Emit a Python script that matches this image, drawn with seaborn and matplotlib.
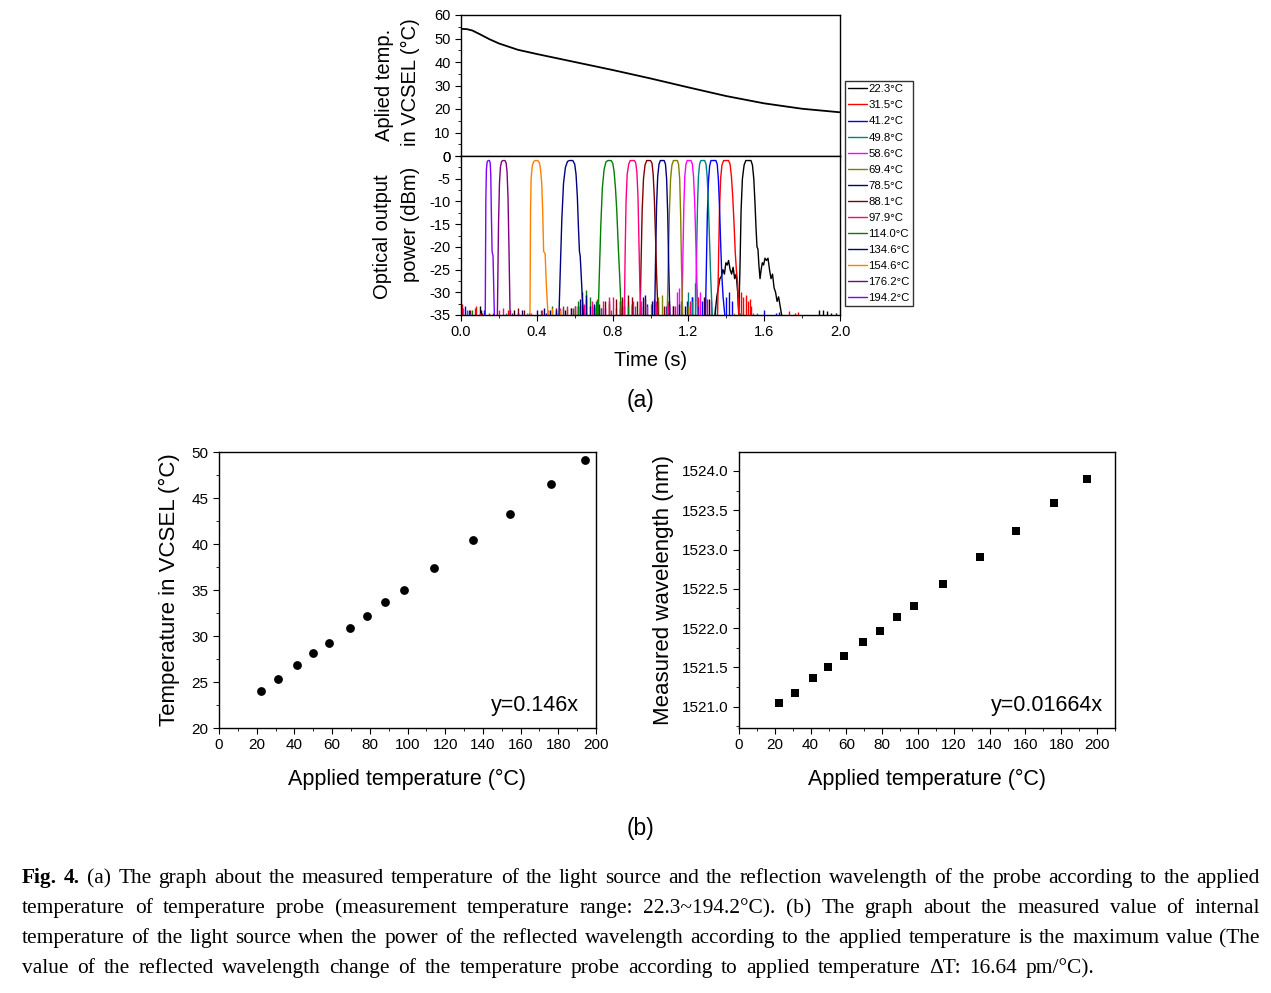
import pandas as pd
import seaborn as sns
import matplotlib.pyplot as plt
from matplotlib.ticker import MultipleLocator, FormatStrFormatter

# applied temperature of the probe and results (Fig. 4b)
APPLIED_T = [22.3, 31.5, 41.2, 49.8, 58.6, 69.4, 78.5, 88.1, 97.9, 114.0, 134.6, 154.6, 176.2, 194.2]
VCSEL_TEMP = [24.05, 25.28, 26.87, 28.13, 29.25, 30.84, 32.14, 33.66, 34.96, 37.38, 40.42, 43.31, 46.49, 49.17]
WAVELENGTH = [1521.05, 1521.18, 1521.36, 1521.50, 1521.64, 1521.82, 1521.96, 1522.14, 1522.28, 1522.56,
              1522.91, 1523.23, 1523.59, 1523.90]

# applied temperature in VCSEL vs time (Fig. 4a, top)
TIME_S = [0.0, 0.03, 0.06, 0.1, 0.15, 0.2, 0.3, 0.4, 0.5, 0.6, 0.8, 1.0, 1.2, 1.4, 1.6, 1.8, 2.0]
VCSEL_RAMP = [54.1, 54.0, 53.4, 51.8, 49.7, 47.9, 45.2, 43.4, 41.7, 40.0, 36.6, 33.0, 29.2, 25.5, 22.4, 20.1, 18.6]

# optical output power traces (Fig. 4a, bottom)
TRACE_LABELS = ['22.3°C', '31.5°C', '41.2°C', '49.8°C', '58.6°C', '69.4°C', '78.5°C',
                '88.1°C', '97.9°C', '114.0°C', '134.6°C', '154.6°C', '176.2°C', '194.2°C']
TRACE_COLORS = ['#000000', '#FF0000', '#0000FF', '#008080', '#FF00FF', '#808000', '#000080',
                '#800000', '#FF0080', '#008000', '#000080', '#FF8000', '#800080', '#8000FF']
TRACE_T = [
    [1.340, 1.350, 1.358, 1.366, 1.374, 1.382, 1.390, 1.398, 1.405, 1.412, 1.420, 1.428, 1.436, 1.444, 1.452,
     1.460, 1.466, 1.472, 1.478, 1.485, 1.494, 1.503, 1.530, 1.538, 1.545, 1.551, 1.557, 1.562, 1.567, 1.572,
     1.578, 1.584, 1.590, 1.597, 1.604, 1.612, 1.620, 1.628, 1.636, 1.644, 1.652, 1.660, 1.668, 1.676, 1.684, 1.692],
    [1.354, 1.359, 1.364, 1.370, 1.377, 1.386, 1.412, 1.420, 1.427, 1.434, 1.441, 1.447, 1.453, 1.460, 1.466],
    [1.290, 1.295, 1.300, 1.306, 1.312, 1.319, 1.345, 1.352, 1.358, 1.364, 1.370, 1.376, 1.383, 1.392],
    [1.238, 1.243, 1.248, 1.253, 1.259, 1.266, 1.286, 1.293, 1.299, 1.305, 1.311, 1.318, 1.326],
    [1.166, 1.171, 1.176, 1.181, 1.187, 1.194, 1.214, 1.221, 1.227, 1.233, 1.238, 1.243, 1.250],
    [1.088, 1.094, 1.100, 1.106, 1.113, 1.121, 1.142, 1.148, 1.154, 1.159, 1.164, 1.170],
    [1.022, 1.027, 1.032, 1.038, 1.045, 1.052, 1.072, 1.079, 1.085, 1.091, 1.096, 1.102],
    [0.945, 0.950, 0.956, 0.963, 0.971, 0.980, 1.000, 1.008, 1.014, 1.020, 1.026, 1.032, 1.040],
    [0.862, 0.866, 0.871, 0.877, 0.885, 0.893, 0.915, 0.922, 0.928, 0.934, 0.939, 0.944, 0.950],
    [0.724, 0.730, 0.738, 0.746, 0.755, 0.765, 0.775, 0.792, 0.801, 0.808, 0.815, 0.822, 0.830, 0.838, 0.846],
    [0.517, 0.524, 0.532, 0.541, 0.551, 0.562, 0.572, 0.590, 0.600, 0.607, 0.614, 0.620, 0.625, 0.629, 0.634,
     0.640, 0.646],
    [0.364, 0.367, 0.370, 0.376, 0.384, 0.392, 0.405, 0.414, 0.420, 0.426, 0.431, 0.436, 0.444, 0.450, 0.459],
    [0.192, 0.198, 0.203, 0.208, 0.214, 0.222, 0.232, 0.238, 0.243, 0.248, 0.253, 0.259],
    [0.128, 0.131, 0.134, 0.138, 0.143, 0.150, 0.154, 0.157, 0.160, 0.164, 0.169, 0.176],
]
TRACE_P = [
    [-35, -31, -29, -27, -26.5, -25, -26, -23.5, -24, -23, -25, -26, -24.5, -27, -26,
     -30, -35, -25, -12, -5, -2, -1, -1, -2, -5, -10, -16, -20, -20.5, -24,
     -27, -25, -23.5, -24, -22.5, -23, -22.5, -25, -27, -26, -29, -30, -32, -31, -33, -35],
    [-35, -23, -12, -5, -2, -1, -1, -1.8, -4.5, -9, -15, -21, -25, -28, -35],
    [-35, -24, -13, -5.5, -2.2, -1, -1, -1.8, -5, -11, -19, -26, -31, -35],
    [-35, -22, -11, -4.5, -1.8, -1, -1, -1.8, -4.5, -10, -18, -27, -35],
    [-35, -22, -11, -4.5, -1.8, -1, -1, -1.8, -4.5, -10, -17, -25, -35],
    [-35, -23, -12, -5, -2, -1, -1, -1.8, -5, -13, -25, -35],
    [-35, -22, -11, -4.5, -1.8, -1, -1, -1.8, -5, -13, -24, -35],
    [-35, -24, -12, -5, -2, -1, -1, -1.6, -4, -9, -17, -26, -35],
    [-35, -22, -10, -4, -1.8, -1, -1, -1.5, -3.5, -9, -19, -29, -35],
    [-35, -26, -15, -7, -3, -1.3, -1, -1, -1.6, -3.5, -7, -12, -20, -27, -35],
    [-35, -25, -14, -6, -2.5, -1.2, -1, -1, -1.8, -4, -9, -16, -21, -22, -26, -31, -35],
    [-35, -12, -5, -2.2, -1.2, -1, -1, -1.5, -3, -6, -12, -21, -21.5, -28, -35],
    [-35, -15, -6, -2.5, -1.2, -1, -1, -1.5, -3.5, -9, -20, -35],
    [-35, -10, -3, -1.3, -1, -1, -1.5, -4, -12, -21, -22, -35],
]
# noise spikes above the -35 dBm floor
NOISE_T = [
    [0.10, 0.105, 0.28, 0.36, 0.55, 0.62, 0.70, 0.84, 0.95, 1.02, 1.10, 1.18, 1.22, 1.28, 1.31,
     1.89, 1.91, 1.93, 1.95, 1.98],
    [0.005, 0.075, 0.08, 0.15, 0.25, 0.46, 0.58, 0.82, 0.90, 1.04, 1.12, 1.20, 1.25, 1.30,
     1.476, 1.49, 1.505, 1.515, 1.525, 1.53, 1.73, 1.76, 1.78],
    [0.02, 0.04, 0.12, 0.30, 0.45, 0.62, 0.74, 0.86, 0.98, 1.08, 1.19, 1.22, 1.27, 1.40, 1.415, 1.43,
     1.60, 1.66, 1.68],
    [0.03, 0.24, 0.52, 0.64, 0.70, 0.79, 0.92, 1.03, 1.16, 1.20, 1.22, 1.236, 1.34, 1.47, 1.56],
    [0.01, 0.37, 0.54, 0.66, 0.76, 0.88, 0.95, 1.02, 1.10, 1.14, 1.15, 1.26, 1.29, 1.32, 1.54],
    [0.35, 0.56, 0.60, 0.78, 0.86, 0.90, 1.00, 1.04, 1.06, 1.09, 1.20, 1.48],
    [0.32, 0.50, 0.58, 0.72, 0.84, 0.90, 0.96, 0.97, 1.01, 1.12, 1.15, 1.25],
    [0.045, 0.11, 0.30, 0.33, 0.50, 0.60, 0.70, 0.73, 0.76, 0.78, 0.82, 0.85, 0.88, 0.90, 0.93, 0.97, 1.07],
    [0.10, 0.20, 0.22, 0.26, 0.43, 0.52, 0.56, 0.60, 0.65, 0.69, 0.72, 0.75, 0.78, 0.80, 0.84, 0.86,
     0.91, 0.98, 1.03, 1.09, 1.13, 1.21],
    [0.06, 0.17, 0.42, 0.48, 0.54, 0.59, 0.62, 0.657, 0.66, 0.68, 0.71, 0.74, 0.88],
    [0.40, 0.44, 0.47, 0.50, 0.63, 0.64, 0.66, 0.68, 0.70],
    [0.46, 0.48, 0.52, 1.44],
    [0.27, 0.30],
    [0.05, 0.19],
]
NOISE_P = [
    [-33, -34, -34, -34.5, -34, -33, -33.5, -33.5, -33, -32, -32.5, -33, -31, -31, -31.5,
     -34, -34, -34.2, -34.5, -34.6],
    [-32.5, -33.5, -33, -34.5, -34, -34, -33.5, -33.5, -32.5, -32, -33, -33, -31, -31.5,
     -30, -31, -30.5, -32, -31.5, -33, -34.2, -34.5, -34.3],
    [-33, -34, -34, -34.5, -34.5, -33, -33.5, -33, -32.5, -33, -32, -31, -32, -31, -30, -32,
     -34, -34.5, -34.3],
    [-34, -34.5, -34, -32.5, -33, -34, -33, -32.5, -32, -30, -32, -28, -33, -34.5, -34.5],
    [-33.5, -34.5, -33.5, -33, -33.5, -32, -32, -31.5, -32, -30, -29, -30, -31, -32, -34.5],
    [-34.5, -33.5, -34, -32.5, -33, -33, -32.5, -31, -30.5, -32, -33, -34.5],
    [-34, -34.5, -33.5, -33, -32, -32.5, -31, -30.5, -32, -33, -32.5, -33],
    [-34, -34.5, -33.5, -34, -33.5, -33, -33, -32.5, -32, -32, -31.5, -31, -30.5, -31, -32, -31.5, -33],
    [-34.5, -34, -33.5, -34, -34, -33.5, -33, -33, -32.5, -32, -31.5, -32, -31, -31, -32, -31.5,
     -32, -33, -32, -32.5, -33, -32],
    [-34, -34.5, -34, -33, -33, -33.5, -32, -29.5, -31.5, -31, -32, -33.5, -33],
    [-34, -33.5, -34, -34, -31.5, -30, -30.5, -33, -32.5],
    [-34, -33.5, -34, -34.5],
    [-34.5, -34.5],
    [-34.5, -34.8],
]

sns.set_style('ticks')
plt.rcParams['font.family'] = ['Liberation Sans', 'DejaVu Sans']
plt.rcParams.update({'text.color': 'black', 'axes.labelcolor': 'black', 'xtick.color': 'black',
                     'ytick.color': 'black', 'axes.edgecolor': 'black', 'axes.linewidth': 1.0,
                     'axes.unicode_minus': False,
                     'xtick.direction': 'out', 'ytick.direction': 'out',
                     'xtick.major.size': 4, 'ytick.major.size': 4, 'xtick.minor.size': 2.2,
                     'ytick.minor.size': 2.2})

W, H = 1271, 993
fig = plt.figure(figsize=(W / 100, H / 100), dpi=100)


def rect(x0, y0, x1, y1):
    return [x0 / W, 1 - y1 / H, (x1 - x0) / W, (y1 - y0) / H]


# ---- (a) top: applied temp in VCSEL
ax_top = fig.add_axes(rect(461, 15, 840, 156))
sns.lineplot(x=TIME_S, y=VCSEL_RAMP, color='black', linewidth=1.3, ax=ax_top)
ax_top.set_xlim(0, 2)
ax_top.set_ylim(0, 60)
ax_top.yaxis.set_major_locator(MultipleLocator(10))
ax_top.yaxis.set_minor_locator(MultipleLocator(5))
ax_top.xaxis.set_major_locator(MultipleLocator(0.4))
ax_top.xaxis.set_minor_locator(MultipleLocator(0.2))
ax_top.tick_params(axis='x', which='both', labelbottom=False)
ax_top.tick_params(labelsize=10.5)

# ---- (a) bottom: optical output power
ax_bot = fig.add_axes(rect(461, 156, 840, 315))
for ts, ps, c in zip(NOISE_T, NOISE_P, TRACE_COLORS):
    ax_bot.vlines(ts, -35, ps, colors=c, linewidth=1.0)
rows = []
for lab, ts, ps in zip(TRACE_LABELS, TRACE_T, TRACE_P):
    for t, p in zip(ts, ps):
        rows.append((lab, t, p))
traces = pd.DataFrame(rows, columns=['trace', 't', 'p'])
sns.lineplot(data=traces, x='t', y='p', hue='trace', hue_order=TRACE_LABELS,
             palette=dict(zip(TRACE_LABELS, TRACE_COLORS)), estimator=None, sort=False,
             linewidth=1.0, ax=ax_bot)
ax_bot.set_xlim(0, 2)
ax_bot.set_ylim(-35, 0)
ax_bot.yaxis.set_major_locator(MultipleLocator(5))
ax_bot.yaxis.set_minor_locator(MultipleLocator(2.5))
ax_bot.xaxis.set_major_locator(MultipleLocator(0.4))
ax_bot.xaxis.set_minor_locator(MultipleLocator(0.2))
ax_bot.xaxis.set_major_formatter(FormatStrFormatter('%.1f'))
ax_bot.tick_params(labelsize=10.5)
ax_bot.set_xlabel('Time (s)', fontsize=14.5, labelpad=8)
ax_bot.set_ylabel('')

handles, labels = ax_bot.get_legend_handles_labels()
ax_bot.get_legend().remove()
leg = fig.legend(handles, labels, loc='upper left', bbox_to_anchor=(845 / W, 1 - 81 / H),
                 frameon=True, fancybox=False, edgecolor='black', fontsize=8.2,
                 handlelength=1.6, handletextpad=0.15, labelspacing=0.53, borderpad=0.3,
                 borderaxespad=0)
leg.get_frame().set_linewidth(1.0)
for ln in leg.get_lines():
    ln.set_linewidth(1.0)

fig.text(384 / W, 1 - 85 / H, 'Aplied temp.', rotation=90, ha='center', va='center', fontsize=14.5)
fig.text(410 / W, 1 - 82 / H, 'in VCSEL (°C)', rotation=90, ha='center', va='center', fontsize=14.5)
fig.text(382 / W, 1 - 237 / H, 'Optical output', rotation=90, ha='center', va='center', fontsize=14.5)
fig.text(410 / W, 1 - 224 / H, 'power (dBm)', rotation=90, ha='center', va='center', fontsize=14.5)
fig.text(640 / W, 1 - 401 / H, '(a)', ha='center', va='center', fontsize=16.5)

# ---- (b) left: temperature in VCSEL
ax_l = fig.add_axes(rect(219, 452, 596, 728))
sns.scatterplot(x=APPLIED_T, y=VCSEL_TEMP, color='black', marker='o', s=40, linewidth=0, ax=ax_l)
ax_l.set_xlim(0, 200)
ax_l.set_ylim(20, 50)
ax_l.xaxis.set_major_locator(MultipleLocator(20))
ax_l.xaxis.set_minor_locator(MultipleLocator(10))
ax_l.yaxis.set_major_locator(MultipleLocator(5))
ax_l.yaxis.set_minor_locator(MultipleLocator(2.5))
ax_l.tick_params(labelsize=11)
ax_l.set_xlabel('Applied temperature (°C)', fontsize=15.5, labelpad=12)
ax_l.set_ylabel('Temperature in VCSEL (°C)', fontsize=16, labelpad=8)
ax_l.text(0.955, 0.08, 'y=0.146x', transform=ax_l.transAxes, ha='right', va='center', fontsize=15.5)

# ---- (b) right: measured wavelength
ax_r = fig.add_axes(rect(739, 452, 1115, 728))
sns.scatterplot(x=APPLIED_T, y=WAVELENGTH, color='black', marker='s', s=32, linewidth=0, ax=ax_r)
ax_r.set_xlim(0, 210)
ax_r.set_ylim(1520.73, 1524.24)
ax_r.xaxis.set_major_locator(MultipleLocator(20))
ax_r.xaxis.set_minor_locator(MultipleLocator(10))
ax_r.yaxis.set_major_locator(MultipleLocator(0.5))
ax_r.yaxis.set_minor_locator(MultipleLocator(0.25))
ax_r.yaxis.set_major_formatter(FormatStrFormatter('%.1f'))
ax_r.tick_params(labelsize=11)
ax_r.set_xlabel('Applied temperature (°C)', fontsize=15.5, labelpad=12)
ax_r.set_ylabel('Measured wavelength (nm)', fontsize=16, labelpad=6)
ax_r.text(0.968, 0.08, 'y=0.01664x', transform=ax_r.transAxes, ha='right', va='center', fontsize=15.5)

fig.text(640 / W, 1 - 829 / H, '(b)', ha='center', va='center', fontsize=16.5)

# ---- caption, justified like the journal page
CAPTION = [
    'Fig. 4. (a) The graph about the measured temperature of the light source and the reflection wavelength of the probe according to the applied',
    'temperature of temperature probe (measurement temperature range: 22.3~194.2°C). (b) The graph about the measured value of internal',
    'temperature of the light source when the power of the reflected wavelength according to the applied temperature is the maximum value (The',
    'value of the reflected wavelength change of the temperature probe according to applied temperature ΔT: 16.64 pm/°C).',
]
serif = ['Liberation Serif', 'DejaVu Serif']
renderer = fig.canvas.get_renderer()
x_left, x_right = 22, 1260
for i, line in enumerate(CAPTION):
    y = 1 - (883 + 30 * i) / H
    words = line.split(' ')
    arts = []
    for j, w in enumerate(words):
        bold = (i == 0 and j < 2)
        arts.append(fig.text(0, y, w, fontsize=15.4, family=serif, va='baseline', ha='left',
                             weight='bold' if bold else 'normal'))
    widths = [a.get_window_extent(renderer).width for a in arts]
    if i < len(CAPTION) - 1:
        gap = (x_right - x_left - sum(widths)) / (len(words) - 1)
    else:
        gap = 8.5
    x = x_left
    for a, wd in zip(arts, widths):
        a.set_x(x / W)
        x += wd + gap

fig.savefig('out.png', dpi=100)
